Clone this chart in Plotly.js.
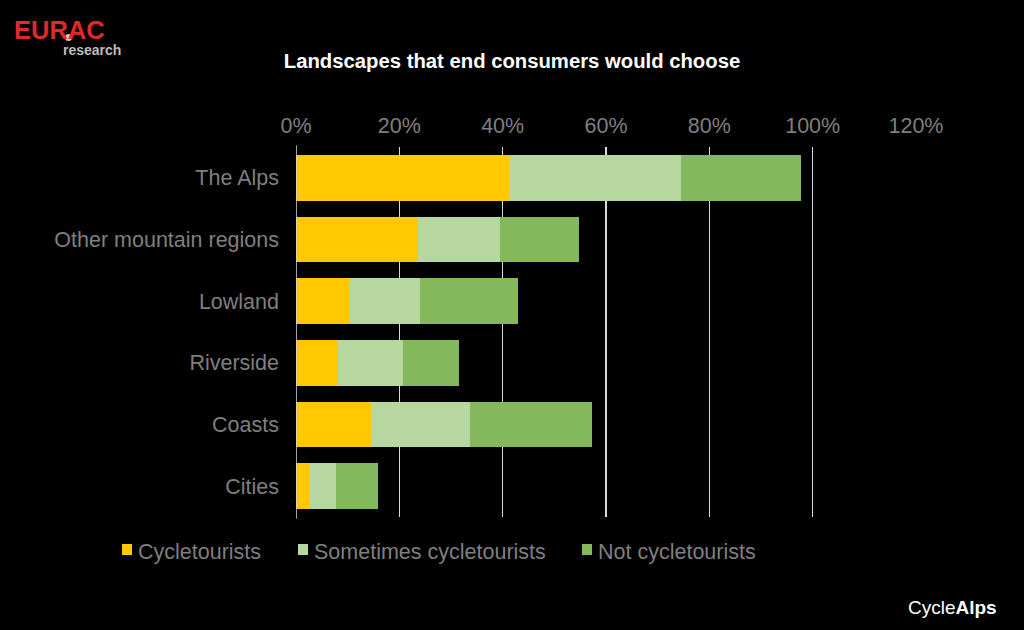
<!DOCTYPE html>
<html>
<head>
<meta charset="utf-8">
<script src="https://cdn.plot.ly/plotly-3.0.1.min.js"></script>
<style>
html,body{margin:0;padding:0;background:#000;}
#chart{width:1024px;height:630px;}
</style>
</head>
<body>
<div id="chart"></div>
<script>
const categories = ["The Alps", "Other mountain regions", "Lowland", "Riverside", "Coasts", "Cities"];
const seriesNames = ["Cycletourists", "Sometimes cycletourists", "Not cycletourists"];
const cycletourists = [41.3, 23.6, 10.4, 8.1, 14.6, 2.6];
const sometimesCycletourists = [33.3, 15.8, 13.6, 12.7, 19.0, 5.1];
const notCycletourists = [23.2, 15.3, 18.9, 10.8, 23.7, 8.2];
const tickValues = [0, 20, 40, 60, 80, 100, 120];
const tickLabels = ["0%", "20%", "40%", "60%", "80%", "100%", "120%"];
const colors = ["#FFC800", "#B6D8A0", "#84B85C"];

const FONT = "Arial, Liberation Sans, sans-serif";
const GREY = "#7f7f7f";

const values = [cycletourists, sometimesCycletourists, notCycletourists];
const traces = values.map((v, i) => ({
  type: "bar",
  orientation: "h",
  name: seriesNames[i],
  x: v,
  y: categories,
  marker: {color: colors[i], line: {width: 0}},
  width: 0.74,
  hoverinfo: "x+y"
}));

const ML = 296, MR = 108, MT = 147, MB = 113;
const W = 1024 - ML - MR, H = 630 - MT - MB;
function px(x){return (x - ML) / W;}
function py(y){return (630 - MB - y) / H;}

// custom legend (positions in pixels, content from seriesNames/colors)
const legendX = [122, 298, 582];
const legendY = 551;
const legendShapes = seriesNames.map((n, i) => ({
  type: "rect", xref: "paper", yref: "paper",
  x0: px(legendX[i]), x1: px(legendX[i] + 10),
  y0: py(legendY - 7), y1: py(legendY + 4),
  fillcolor: colors[i], line: {width: 0}
}));
const legendAnn = seriesNames.map((n, i) => ({
  text: n, xref: "paper", yref: "paper",
  x: px(legendX[i] + 14), y: py(legendY + 1),
  xanchor: "left", yanchor: "middle", showarrow: false,
  font: {size: 21.5, color: GREY, family: FONT}
}));

const layout = {
  width: 1024,
  height: 630,
  paper_bgcolor: "#000",
  plot_bgcolor: "#000",
  barmode: "stack",
  margin: {l: ML, r: MR, t: MT, b: MB},
  font: {family: FONT, color: GREY},
  title: {
    text: "<b>Landscapes that end consumers would choose</b>",
    font: {size: 20.3, color: "#ffffff", family: FONT},
    x: 0.5, xref: "container", xanchor: "center",
    y: 0.903, yref: "container", yanchor: "middle"
  },
  xaxis: {
    side: "top",
    range: [0, 120],
    tickvals: tickValues,
    ticktext: tickLabels,
    tickfont: {size: 21.5, color: GREY},
    showgrid: true,
    gridcolor: "#d9d9d9",
    gridwidth: 1.5,
    zeroline: false,
    showline: false,
    ticks: "",
    ticklabelstandoff: 9,
    fixedrange: true
  },
  yaxis: {
    autorange: "reversed",
    tickfont: {size: 21.5, color: GREY},
    showgrid: false,
    zeroline: false,
    showline: false,
    ticks: "",
    ticklabelstandoff: 16,
    fixedrange: true
  },
  showlegend: false,
  shapes: [
    {type: "line", xref: "x", yref: "paper", x0: 0, x1: 0, y0: -0.005, y1: 1.005,
     line: {color: "#d9d9d9", width: 1.5}},
    {type: "circle", xref: "paper", yref: "paper",
     x0: px(65), x1: px(72), y0: py(41), y1: py(34),
     fillcolor: "#c8c8c8", line: {width: 0}}
  ].concat(legendShapes),
  annotations: [
    {text: "<b>EURAC</b>", xref: "paper", yref: "paper", x: px(12), y: py(30), xanchor: "left", yanchor: "middle",
     showarrow: false, font: {size: 25.5, color: "#e2282a", family: FONT}},
    {text: "<b>research</b>", xref: "paper", yref: "paper", x: px(61), y: py(50), xanchor: "left", yanchor: "middle",
     showarrow: false, font: {size: 14, color: "#bdbdbd", family: FONT}},
    {text: "Cycle<b>Alps</b>", xref: "paper", yref: "paper", x: px(999), y: py(607), xanchor: "right", yanchor: "middle",
     showarrow: false, font: {size: 19, color: "#ffffff", family: FONT}}
  ].concat(legendAnn)
};

Plotly.newPlot("chart", traces, layout, {displayModeBar: false, staticPlot: true});
</script>
</body>
</html>
